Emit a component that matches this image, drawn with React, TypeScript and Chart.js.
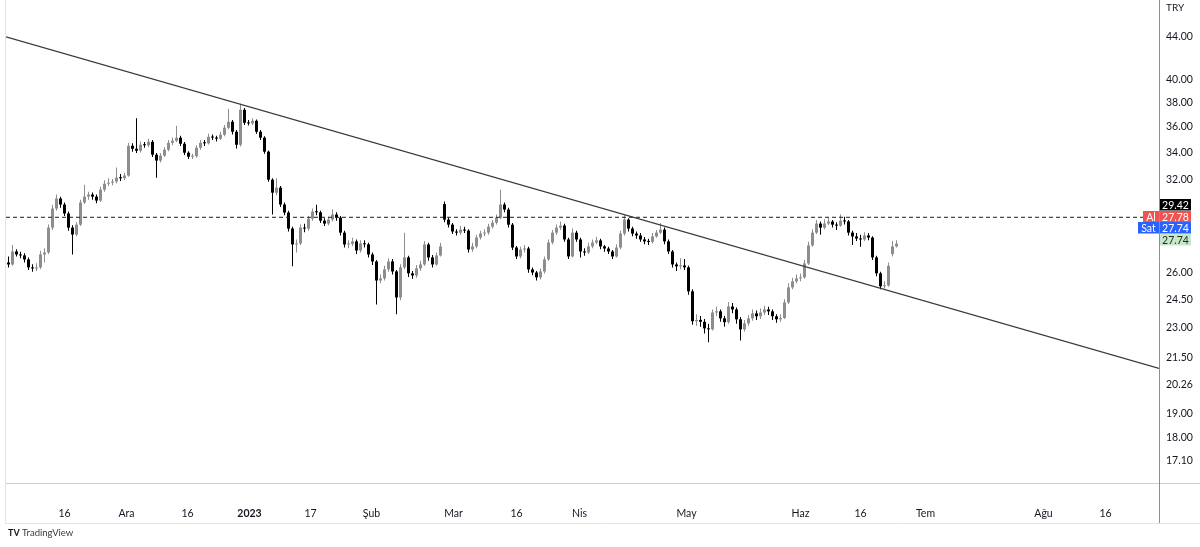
import React, { useEffect, useRef } from "react";
import { Chart, registerables } from "chart.js";

Chart.register(...registerables);

// ---- data (one candle per slot) ----
const opens = [
  26.60, 26.48, 27.26, 27.08, 27.02, 26.78, 26.31, 26.25, 26.31, 27.08,
  27.20, 28.75, 30.00, 30.68, 30.27, 29.67, 28.75, 28.31, 28.94, 30.41,
  30.81, 30.95, 30.81, 30.54, 31.29, 31.71, 31.78, 31.86, 32.14, 32.10,
  32.29, 34.51, 34.28, 34.13, 34.59, 34.55, 34.82, 33.83, 33.39, 33.76,
  34.21, 34.74, 34.90, 35.14, 34.67, 33.98, 33.68, 33.72, 34.36, 34.74,
  34.70, 35.21, 35.15, 35.06, 35.37, 35.93, 36.41, 35.61, 34.59, 37.40,
  36.33, 36.28, 36.49, 35.61, 35.14, 34.06, 32.00, 31.08, 31.43, 30.27,
  29.73, 28.69, 27.69, 27.75, 28.75, 28.69, 29.33, 29.80, 29.75, 29.20,
  29.01, 29.27, 29.60, 29.40, 28.43, 27.69, 27.72, 27.88, 27.32, 27.75,
  27.70, 27.08, 26.66, 25.55, 25.67, 26.19, 26.66, 26.07, 24.60, 26.31,
  26.90, 25.96, 25.84, 26.25, 26.48, 27.69, 26.90, 26.48, 27.02, 30.30,
  29.27, 28.94, 28.50, 28.43, 28.62, 28.56, 27.38, 27.57, 28.12, 28.37,
  28.43, 28.81, 29.07, 29.40, 30.27, 29.93, 28.94, 27.50, 26.96, 27.38,
  27.44, 26.19, 26.01, 25.73, 26.07, 26.78, 27.81, 28.43, 28.75, 28.88,
  28.00, 26.96, 28.43, 28.00, 27.26, 27.20, 27.57, 27.81, 27.94, 27.57,
  27.44, 27.26, 26.96, 27.50, 28.37, 29.27, 28.69, 28.37, 28.25, 28.00,
  27.88, 27.85, 28.19, 28.43, 28.62, 27.88, 27.26, 26.48, 26.37, 26.42,
  26.31, 24.94, 23.33, 23.40, 23.30, 22.96, 22.91, 23.79, 23.85, 23.48,
  23.28, 24.11, 23.95, 23.43, 22.91, 23.22, 23.48, 23.74, 23.59, 23.79,
  23.95, 23.85, 23.59, 23.43, 23.50, 24.33, 25.16, 25.50, 25.67, 25.73,
  26.54, 27.63, 28.43, 29.01, 28.75, 29.01, 29.14, 28.94, 28.88, 29.20,
  29.15, 28.43, 28.19, 28.06, 28.00, 28.25, 28.12, 26.90, 25.96, 25.22,
  25.27, 27.10, 27.57,
];

const highs = [
  26.95, 27.65, 27.40, 27.25, 27.15, 26.90, 26.50, 26.55, 27.30, 27.45,
  28.95, 30.25, 30.95, 30.80, 30.40, 29.80, 28.90, 29.10, 30.60, 31.64,
  31.15, 31.10, 30.95, 31.50, 31.95, 32.10, 32.05, 32.87, 32.40, 32.50,
  34.75, 34.70, 36.70, 34.85, 34.80, 35.05, 34.95, 33.95, 33.95, 34.40,
  34.95, 35.15, 36.09, 35.30, 34.80, 34.10, 33.90, 34.55, 34.95, 34.95,
  35.45, 35.40, 35.30, 35.60, 36.15, 37.48, 36.55, 35.75, 37.90, 37.55,
  36.55, 36.70, 36.60, 35.75, 35.25, 34.15, 32.10, 32.10, 31.55, 30.40,
  29.85, 28.80, 28.00, 28.95, 29.00, 29.50, 30.00, 30.25, 29.85, 29.35,
  29.45, 29.95, 29.75, 29.50, 28.55, 27.95, 28.10, 28.00, 27.95, 27.95,
  27.80, 27.20, 26.75, 25.90, 26.40, 26.85, 26.80, 26.15, 26.50, 28.43,
  27.00, 26.10, 26.45, 26.70, 27.90, 27.80, 27.05, 27.20, 27.80, 30.47,
  29.40, 29.05, 28.65, 28.85, 28.80, 28.65, 27.80, 28.30, 28.55, 28.65,
  29.00, 29.25, 29.60, 31.29, 30.40, 30.05, 29.05, 27.60, 27.55, 27.65,
  27.55, 26.30, 26.10, 26.25, 26.95, 28.00, 28.60, 28.95, 29.15, 29.00,
  28.10, 28.70, 28.55, 28.10, 27.45, 27.80, 28.00, 28.15, 28.05, 27.65,
  27.55, 27.35, 27.70, 28.55, 29.60, 29.35, 28.80, 28.50, 28.40, 28.15,
  28.05, 28.40, 28.60, 29.05, 28.75, 28.00, 27.35, 26.60, 26.85, 26.80,
  26.40, 25.05, 23.70, 23.60, 23.45, 23.20, 23.95, 24.10, 23.95, 23.60,
  24.35, 24.30, 24.05, 23.55, 23.40, 23.65, 23.95, 23.90, 24.00, 24.15,
  24.10, 23.95, 23.70, 23.70, 24.50, 25.40, 25.70, 25.90, 25.95, 26.75,
  27.85, 28.65, 29.25, 29.15, 29.30, 29.40, 29.25, 29.10, 29.60, 29.45,
  29.25, 28.55, 28.40, 28.30, 28.45, 28.40, 28.20, 27.00, 26.05, 25.50,
  26.60, 27.90, 27.95,
];

const lows = [
  26.30, 26.40, 26.95, 26.85, 26.60, 26.15, 26.05, 26.10, 26.20, 26.60,
  27.10, 28.60, 29.85, 30.05, 29.50, 28.55, 27.08, 28.20, 28.85, 30.30,
  30.60, 30.60, 30.35, 30.45, 31.15, 31.55, 31.60, 31.75, 31.90, 31.95,
  32.20, 34.05, 33.95, 34.00, 34.35, 34.40, 33.65, 32.14, 33.25, 33.65,
  34.10, 34.55, 34.80, 34.50, 33.80, 33.50, 33.50, 33.60, 34.20, 34.50,
  34.60, 34.95, 34.85, 34.95, 35.25, 35.80, 35.40, 34.30, 34.45, 36.15,
  36.10, 36.15, 35.45, 34.95, 33.90, 31.85, 29.60, 30.90, 30.10, 29.55,
  28.50, 26.37, 27.20, 27.65, 28.45, 28.55, 29.20, 29.55, 29.05, 28.85,
  28.90, 29.15, 29.20, 28.25, 27.50, 27.45, 27.60, 27.10, 27.20, 27.50,
  26.90, 26.45, 24.22, 25.40, 25.55, 26.05, 25.90, 23.69, 24.45, 26.20,
  25.75, 25.65, 25.70, 26.10, 26.40, 26.70, 26.30, 26.40, 26.95, 29.10,
  28.75, 28.35, 28.25, 28.30, 28.40, 27.20, 27.25, 27.45, 28.00, 28.20,
  28.30, 28.70, 28.95, 29.30, 29.75, 28.75, 27.35, 26.80, 26.85, 27.20,
  26.00, 25.85, 25.55, 25.60, 25.95, 26.70, 27.70, 28.30, 28.60, 27.85,
  26.80, 26.90, 27.85, 26.90, 27.00, 27.10, 27.45, 27.70, 27.40, 27.25,
  27.10, 26.80, 26.90, 27.40, 28.25, 28.50, 28.20, 28.05, 27.85, 27.70,
  27.65, 27.75, 28.10, 28.35, 27.70, 27.10, 26.30, 26.10, 26.20, 26.15,
  24.75, 23.15, 23.10, 23.05, 22.70, 22.26, 22.85, 23.60, 23.30, 23.05,
  23.20, 23.75, 23.20, 22.35, 22.80, 23.10, 23.35, 23.40, 23.45, 23.65,
  23.65, 23.40, 23.25, 23.30, 23.45, 24.25, 25.05, 25.40, 25.50, 25.65,
  26.45, 27.55, 28.35, 28.30, 28.65, 28.90, 28.75, 28.60, 28.80, 28.95,
  28.25, 27.65, 27.90, 27.55, 27.90, 27.95, 26.75, 25.80, 25.05, 25.10,
  25.20, 26.95, 27.50,
];

const closes = [
  26.48, 27.26, 27.08, 27.02, 26.78, 26.31, 26.25, 26.31, 27.08, 27.20,
  28.75, 30.00, 30.68, 30.27, 29.67, 28.75, 28.31, 28.94, 30.41, 30.81,
  30.95, 30.81, 30.54, 31.29, 31.71, 31.78, 31.86, 32.14, 32.10, 32.29,
  34.51, 34.28, 34.13, 34.59, 34.55, 34.82, 33.83, 33.39, 33.76, 34.21,
  34.74, 34.90, 35.14, 34.67, 33.98, 33.68, 33.72, 34.36, 34.74, 34.70,
  35.21, 35.15, 35.06, 35.37, 35.93, 36.41, 35.61, 34.59, 37.40, 36.33,
  36.28, 36.49, 35.61, 35.14, 34.06, 32.00, 31.08, 31.43, 30.27, 29.73,
  28.69, 27.69, 27.75, 28.75, 28.69, 29.33, 29.80, 29.75, 29.20, 29.01,
  29.27, 29.60, 29.40, 28.43, 27.69, 27.72, 27.88, 27.32, 27.75, 27.70,
  27.08, 26.66, 25.55, 25.67, 26.19, 26.66, 26.07, 24.60, 26.31, 26.90,
  25.96, 25.84, 26.25, 26.48, 27.69, 26.90, 26.48, 27.02, 27.57, 29.27,
  28.94, 28.50, 28.43, 28.62, 28.56, 27.38, 27.57, 28.12, 28.37, 28.43,
  28.81, 29.07, 29.40, 30.27, 29.93, 28.94, 27.50, 26.96, 27.38, 27.44,
  26.19, 26.01, 25.73, 26.07, 26.78, 27.81, 28.43, 28.75, 28.88, 28.00,
  26.96, 28.43, 28.00, 27.26, 27.20, 27.57, 27.81, 27.94, 27.57, 27.44,
  27.26, 26.96, 27.50, 28.37, 29.27, 28.69, 28.37, 28.25, 28.00, 27.88,
  27.85, 28.19, 28.43, 28.62, 27.88, 27.26, 26.48, 26.37, 26.42, 26.31,
  24.94, 23.33, 23.40, 23.30, 22.96, 22.91, 23.79, 23.85, 23.48, 23.28,
  24.11, 23.95, 23.43, 22.91, 23.22, 23.48, 23.74, 23.59, 23.79, 23.95,
  23.85, 23.59, 23.43, 23.50, 24.33, 25.16, 25.50, 25.67, 25.73, 26.54,
  27.63, 28.43, 29.01, 28.75, 29.01, 29.14, 28.94, 28.88, 29.20, 29.15,
  28.43, 28.19, 28.06, 28.00, 28.25, 28.12, 26.90, 25.96, 25.22, 25.27,
  26.40, 27.57, 27.74,
];

// time-axis ticks (positions in candle-slot units) and their labels
const xTickPositions = [14, 29.5, 44.75, 60.25, 75.5, 90.75, 111.25, 127, 142.75, 169.5, 198, 213, 229.25, 258.75, 274.25];
const xTickLabels = ["16", "Ara", "16", "2023", "17", "Şub", "Mar", "16", "Nis", "May", "Haz", "16", "Tem", "Ağu", "16"];

// price-axis ticks
const yTicks = [44, 40, 38, 36, 34, 32, 26, 24.5, 23, 21.5, 20.26, 19, 18, 17.1];

// drawn trend line (anchor points) and horizontal level
const trendLine = [
  { x: -0.625, y: 44.0 },
  { x: 287.625, y: 21.0 },
];
const levelPrice = 29.42;
const askPrice = 27.78;
const bidPrice = 27.74;
const lastPrice = 27.74;

// visible ranges
const X_MIN = -0.625;
const X_MAX = 287.625;
const Y_MIN = 16.26;
const Y_MAX = 47.78;

const FONT = "Lato, 'Open Sans', sans-serif";
const TEXT = "#131722";
const UP_COLOR = "#8e8e8e";
const DOWN_COLOR = "#000000";

const overlayPlugin = {
  id: "tvOverlay",
  afterDraw(chart: any) {
    const { ctx, chartArea: a, scales } = chart;
    const ys = scales.y;
    const W = chart.width;
    const axisBottom = a.bottom + 40;
    ctx.save();
    ctx.lineWidth = 1;

    // pane frame
    ctx.strokeStyle = "#e3e3e3";
    ctx.beginPath();
    ctx.moveTo(a.left - 0.5, 0);
    ctx.lineTo(a.left - 0.5, axisBottom + 0.5);
    ctx.lineTo(W, axisBottom + 0.5);
    ctx.stroke();

    ctx.strokeStyle = "#cfcfcf";
    ctx.beginPath();
    ctx.moveTo(a.left, a.bottom + 0.5);
    ctx.lineTo(W, a.bottom + 0.5);
    ctx.stroke();

    ctx.strokeStyle = "#8f8f8f";
    ctx.beginPath();
    ctx.moveTo(a.right + 0.5, 0);
    ctx.lineTo(a.right + 0.5, axisBottom);
    ctx.stroke();

    // currency
    ctx.font = `10px ${FONT}`;
    ctx.fillStyle = TEXT;
    ctx.textBaseline = "middle";
    ctx.textAlign = "left";
    ctx.fillText("TRY", a.right + 7, 8);

    // price tags on the axis
    const bh = 11.5;
    const yLast = ys.getPixelForValue(lastPrice);
    const cG = yLast - 4;
    const cB = cG - bh;
    const cR = cB - bh;
    const cK = cR - bh;
    const tagX = a.right + 1;
    const tagW = 31;
    const tag = (cy: number, bg: string, fg: string, txt: string) => {
      ctx.fillStyle = bg;
      ctx.fillRect(tagX, Math.round(cy - bh / 2), tagW, bh);
      ctx.fillStyle = fg;
      ctx.textAlign = "center";
      ctx.fillText(txt, tagX + tagW / 2, cy + 0.5);
    };
    ctx.font = `10.5px ${FONT}`;
    tag(cK, "#000000", "#ffffff", levelPrice.toFixed(2));
    tag(cR, "#f05350", "#ffffff", askPrice.toFixed(2));
    tag(cB, "#2962ff", "#ffffff", bidPrice.toFixed(2));
    tag(cG, "#c8e6c9", "#1b2e1c", lastPrice.toFixed(2));

    // buy / sell buttons
    ctx.fillStyle = "#f05350";
    ctx.fillRect(a.right - 16, Math.round(cR - bh / 2), 16, bh);
    ctx.fillStyle = "#2962ff";
    ctx.fillRect(a.right - 21, Math.round(cB - bh / 2), 21, bh);
    ctx.fillStyle = "#ffffff";
    ctx.textAlign = "center";
    ctx.fillText("Al", a.right - 8, cR + 0.5);
    ctx.fillText("Sat", a.right - 10.5, cB + 0.5);

    // footer
    ctx.fillStyle = "#131722";
    ctx.textAlign = "left";
    ctx.font = `bold 9px ${FONT}`;
    ctx.fillText("TV", 8, 533);
    ctx.font = `9.5px ${FONT}`;
    ctx.fillStyle = "#3a3a3a";
    ctx.fillText("TradingView", 22, 533);

    ctx.restore();
  },
};

export default function App() {
  const ref = useRef<HTMLCanvasElement | null>(null);

  useEffect(() => {
    document.body.style.margin = "0";
    const canvas = ref.current;
    if (!canvas) return;
    const colors = closes.map((c, i) => (c >= opens[i] ? UP_COLOR : DOWN_COLOR));
    const wickData = closes.map((_, i) => ({ x: i, y: [lows[i], highs[i]] }));
    const bodyData = closes.map((c, i) => ({
      x: i,
      y: [Math.min(opens[i], c), Math.max(opens[i], c)],
    }));

    const chart = new Chart(canvas, {
      type: "bar",
      data: {
        datasets: [
          {
            type: "line",
            data: trendLine,
            borderColor: "#3a3a3a",
            borderWidth: 1.2,
            pointRadius: 0,
            order: 0,
          } as any,
          {
            type: "line",
            data: [
              { x: X_MIN, y: levelPrice },
              { x: X_MAX, y: levelPrice },
            ],
            borderColor: "#1e1e1e",
            borderWidth: 1,
            borderDash: [4, 3],
            pointRadius: 0,
            order: 1,
          } as any,
          {
            type: "bar",
            data: wickData,
            backgroundColor: colors,
            barThickness: 1,
            grouped: false,
            inflateAmount: 0,
            order: 3,
          } as any,
          {
            type: "bar",
            data: bodyData,
            backgroundColor: colors,
            barThickness: 3,
            grouped: false,
            inflateAmount: 0,
            minBarLength: 1,
            order: 2,
          } as any,
        ],
      },
      options: {
        animation: false,
        responsive: false,
        maintainAspectRatio: false,
        devicePixelRatio: 1,
        layout: { padding: { left: 6, top: 0, right: 0, bottom: 24 } },
        plugins: { legend: { display: false }, tooltip: { enabled: false } },
        scales: {
          x: {
            type: "linear",
            min: X_MIN,
            max: X_MAX,
            offset: false,
            grid: { display: false, drawTicks: false },
            border: { display: false },
            afterBuildTicks: (axis: any) => {
              axis.ticks = xTickPositions.map((v) => ({ value: v }));
            },
            afterFit: (axis: any) => {
              axis.height = 40;
              axis.paddingLeft = 0;
              axis.paddingRight = 0;
            },
            ticks: {
              autoSkip: false,
              maxRotation: 0,
              padding: 24,
              color: TEXT,
              font: (ctx: any) => ({
                family: FONT,
                size: 10.5,
                weight: xTickLabels[ctx.index] === "2023" ? "bold" : "normal",
              }),
              callback: (_v: any, i: number) => xTickLabels[i],
            },
          },
          y: {
            type: "logarithmic",
            position: "right",
            min: Y_MIN,
            max: Y_MAX,
            grid: { display: false, drawTicks: false },
            border: { display: false },
            afterBuildTicks: (axis: any) => {
              axis.ticks = yTicks.map((v) => ({ value: v }));
            },
            afterFit: (axis: any) => {
              axis.width = 41;
              axis.paddingTop = 0;
              axis.paddingBottom = 0;
            },
            ticks: {
              autoSkip: false,
              padding: 7,
              color: TEXT,
              font: { family: FONT, size: 10.5 },
              callback: (v: any) => Number(v).toFixed(2),
            },
          },
        },
      } as any,
      plugins: [overlayPlugin],
    });
    return () => chart.destroy();
  }, []);

  return (
    <div style={{ width: 1200, height: 547, background: "#ffffff" }}>
      <canvas ref={ref} width={1200} height={547} style={{ width: 1200, height: 547, display: "block" }} />
    </div>
  );
}
